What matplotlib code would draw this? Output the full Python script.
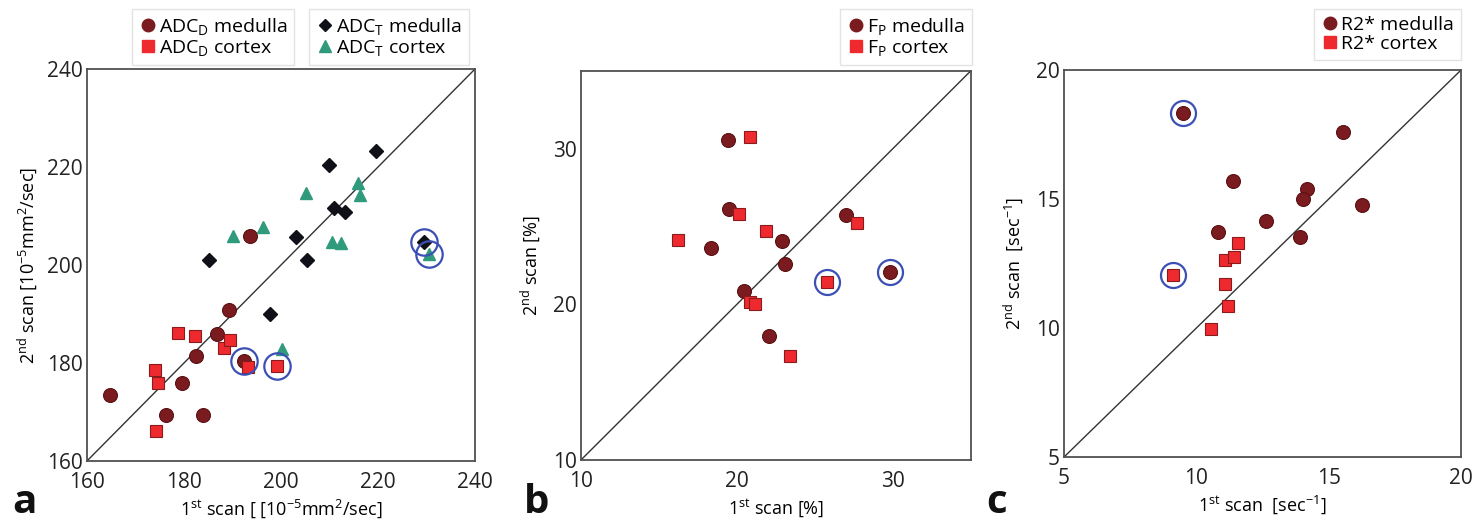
import matplotlib
matplotlib.use("Agg")
import matplotlib.pyplot as plt
from matplotlib.lines import Line2D

plt.rcParams['font.family'] = ['Open Sans', 'DejaVu Sans']
plt.rcParams['mathtext.fontset'] = 'custom'
plt.rcParams['mathtext.rm'] = 'Open Sans'
plt.rcParams['mathtext.it'] = 'Open Sans:italic'
plt.rcParams['mathtext.bf'] = 'Open Sans:bold'

# ---------------- Panel a: ADC ----------------
adcD_med_x = [164.7, 176.3, 184.0, 179.7, 182.5, 186.9, 189.2, 193.7, 192.3]
adcD_med_y = [173.5, 169.3, 169.3, 175.9, 181.4, 186.0, 190.8, 206.0, 180.4]
adcD_med_out = [8]
adcD_cor_x = [174.2, 174.1, 174.6, 178.7, 182.2, 188.2, 189.4, 193.3, 199.1]
adcD_cor_y = [166.1, 178.6, 176.0, 186.2, 185.5, 183.1, 184.8, 179.1, 179.3]
adcD_cor_out = [8]
adcT_med_x = [185.1, 197.8, 203.1, 205.3, 209.9, 211.0, 213.2, 219.6, 229.4]
adcT_med_y = [201.0, 190.0, 205.8, 201.0, 220.4, 211.7, 210.9, 223.3, 204.6]
adcT_med_out = [8]
adcT_cor_x = [190.2, 196.3, 205.2, 200.2, 210.5, 212.4, 215.8, 216.3, 230.5]
adcT_cor_y = [206.0, 207.7, 214.8, 182.8, 204.7, 204.4, 216.8, 214.3, 202.3]
adcT_cor_out = [8]
a_ticks = [160, 180, 200, 220, 240]

# ---------------- Panel b: Fp ----------------
fp_med_x = [19.40, 19.51, 18.35, 22.88, 23.10, 20.47, 22.03, 27.00, 29.79]
fp_med_y = [30.56, 26.10, 23.60, 24.09, 22.59, 20.86, 17.97, 25.74, 22.06]
fp_med_out = [8]
fp_cor_x = [20.81, 20.11, 16.20, 21.88, 27.69, 20.81, 21.18, 23.42, 25.77]
fp_cor_y = [30.77, 25.78, 24.13, 24.71, 25.20, 20.17, 20.00, 16.68, 21.46]
fp_cor_out = [8]
b_ticks = [10, 20, 30]
b_lim = [10, 35]

# ---------------- Panel c: R2* ----------------
r2_med_x = [9.50, 15.55, 11.37, 14.18, 14.01, 16.26, 12.63, 10.82, 13.92]
r2_med_y = [18.35, 17.61, 15.70, 15.38, 15.00, 14.75, 14.15, 13.71, 13.51]
r2_med_out = [0]
r2_cor_x = [9.10, 11.58, 11.09, 11.43, 11.09, 11.21, 10.55]
r2_cor_y = [12.06, 13.31, 12.64, 12.74, 11.71, 10.86, 9.96]
r2_cor_out = [0]
c_ticks = [5, 10, 15, 20]

MED = '#7a1c1f'
MED_EDGE = '#5a1012'
COR = '#ee2a2e'
COR_EDGE = '#8a1a1c'
BLK = '#101018'
GRN = '#2f9a7c'
BLUE = '#3c4fb4'
SPINE = '#505050'

fig = plt.figure(figsize=(14.76, 5.23), dpi=100)
axA = fig.add_axes([0.0589, 0.1185, 0.2629, 0.7495])
axB = fig.add_axes([0.3936, 0.1205, 0.2642, 0.7443])
axC = fig.add_axes([0.7209, 0.1262, 0.2690, 0.7400])


def style(ax, lim, ticks):
    ax.set_xlim(lim)
    ax.set_ylim(lim)
    ax.set_xticks(ticks)
    ax.set_yticks(ticks)
    ax.tick_params(length=0, labelsize=15, colors='#222222')
    ax.tick_params(axis='y', pad=3)
    ax.tick_params(axis='x', pad=8)
    for s in ax.spines.values():
        s.set_color(SPINE)
        s.set_linewidth(1.3)
    ax.plot(lim, lim, color='#333333', lw=1.0, zorder=1)


def highlight(ax, xs, ys, idx, ms):
    ax.plot([xs[i] for i in idx], [ys[i] for i in idx], 'o', ms=ms, mfc='none',
            mec=BLUE, mew=1.6, zorder=6, linestyle='none')


def med(ax, x, y):
    ax.plot(x, y, 'o', ms=10, mfc=MED, mec=MED_EDGE, mew=0.8, linestyle='none', zorder=3)


def cor(ax, x, y):
    ax.plot(x, y, 's', ms=9, mfc=COR, mec=COR_EDGE, mew=0.8, linestyle='none', zorder=4)


# Panel a
style(axA, [160, 240], a_ticks)
med(axA, adcD_med_x, adcD_med_y)
cor(axA, adcD_cor_x, adcD_cor_y)
axA.plot(adcT_med_x, adcT_med_y, 'D', ms=7, mfc=BLK, mec=BLK, linestyle='none', zorder=4)
axA.plot(adcT_cor_x, adcT_cor_y, '^', ms=9, mfc=GRN, mec=GRN, linestyle='none', zorder=4)
highlight(axA, adcD_med_x, adcD_med_y, adcD_med_out, 19)
highlight(axA, adcD_cor_x, adcD_cor_y, adcD_cor_out, 19)
highlight(axA, adcT_med_x, adcT_med_y, adcT_med_out, 19)
highlight(axA, adcT_cor_x, adcT_cor_y, adcT_cor_out, 19)
axA.set_xlabel(r'1$^{\mathrm{st}}$ scan [ [10$^{-5}$mm$^{2}$/sec]', fontsize=13, labelpad=3)
axA.set_ylabel(r'2$^{\mathrm{nd}}$ scan [10$^{-5}$mm$^{2}$/sec]', fontsize=13, labelpad=6)

# Panel b
style(axB, b_lim, b_ticks)
med(axB, fp_med_x, fp_med_y)
cor(axB, fp_cor_x, fp_cor_y)
highlight(axB, fp_med_x, fp_med_y, fp_med_out, 18)
highlight(axB, fp_cor_x, fp_cor_y, fp_cor_out, 18)
axB.set_xlabel(r'1$^{\mathrm{st}}$ scan [%]', fontsize=13, labelpad=3)
axB.set_ylabel(r'2$^{\mathrm{nd}}$ scan [%]', fontsize=13, labelpad=8)

# Panel c
style(axC, [5, 20], c_ticks)
med(axC, r2_med_x, r2_med_y)
cor(axC, r2_cor_x, r2_cor_y)
highlight(axC, r2_med_x, r2_med_y, r2_med_out, 18)
highlight(axC, r2_cor_x, r2_cor_y, r2_cor_out, 18)
axC.set_xlabel(r'1$^{\mathrm{st}}$ scan  [sec$^{-1}$]', fontsize=13, labelpad=3)
axC.set_ylabel(r'2$^{\mathrm{nd}}$ scan  [sec$^{-1}$]', fontsize=13, labelpad=8)


def h(marker, color, ms, edge=None):
    return Line2D([], [], marker=marker, linestyle='none', mfc=color,
                  mec=edge if edge else color, ms=ms)


leg_kw = dict(frameon=True, fancybox=False, edgecolor='#dddddd', fontsize=14,
              handletextpad=0.15, borderpad=0.35, labelspacing=0.05,
              handlelength=0.9, borderaxespad=0)

# Legends panel a
l1 = fig.legend([h('o', MED, 9), h('s', COR, 8)],
                [r'ADC$_{\mathrm{D}}$ medulla', r'ADC$_{\mathrm{D}}$ cortex'],
                loc='upper left', bbox_to_anchor=(132 / 1476, 1 - 9 / 523), **leg_kw)
l2 = fig.legend([h('D', BLK, 6), h('^', GRN, 8)],
                [r'ADC$_{\mathrm{T}}$ medulla', r'ADC$_{\mathrm{T}}$ cortex'],
                loc='upper left', bbox_to_anchor=(309 / 1476, 1 - 9 / 523), **leg_kw)
# Legend panel b
fig.legend([h('o', MED, 9), h('s', COR, 8)],
           [r'F$_{\mathrm{P}}$ medulla', r'F$_{\mathrm{P}}$ cortex'],
           loc='upper right', bbox_to_anchor=(972 / 1476, 1 - 9 / 523), **leg_kw)
# Legend panel c
fig.legend([h('o', MED, 9), h('s', COR, 8)],
           ['R2* medulla', 'R2* cortex'],
           loc='upper right', bbox_to_anchor=(1461 / 1476, 1 - 9 / 523), **leg_kw)

# Panel letters
for xp, letter in [(12, 'a'), (524, 'b'), (986, 'c')]:
    fig.text(xp / 1476, 1 / 523, letter, fontsize=29, fontweight='bold',
             ha='left', va='bottom', color='#111111')

fig.savefig('out.png', dpi=100, facecolor='white')
